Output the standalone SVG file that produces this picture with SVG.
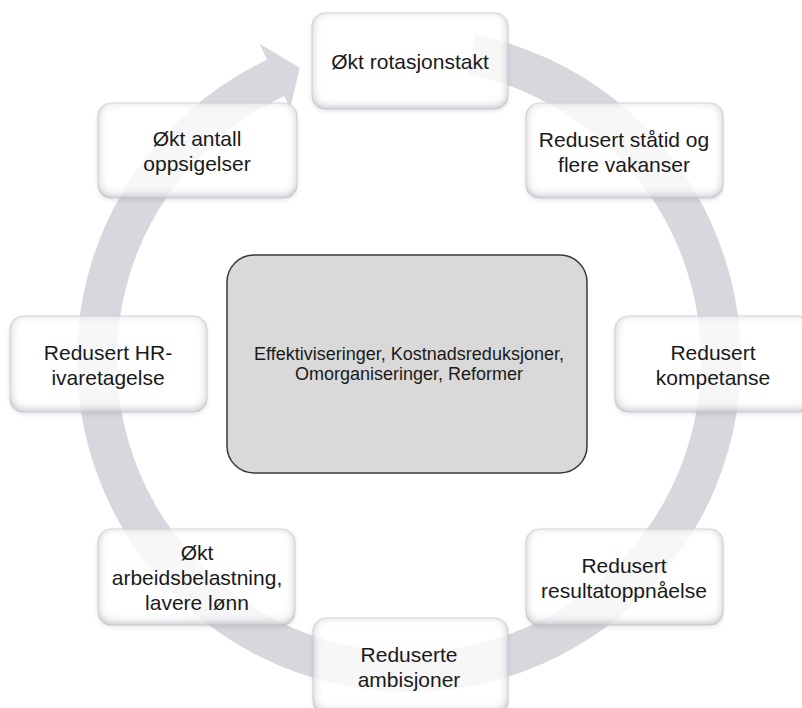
<svg xmlns="http://www.w3.org/2000/svg" width="802" height="708" viewBox="0 0 802 708">
<style>
  .lbl { font-family: "Liberation Sans", Arial, sans-serif; font-size: 21px; fill: #1a1a1a; text-anchor: middle; }
  .clbl { font-family: "Liberation Sans", Arial, sans-serif; font-size: 18px; fill: #1a1a1a; text-anchor: middle; }
  .box { fill: #ffffff; stroke: #e2e2e8; stroke-width: 1; opacity: 0.8; filter: url(#bevel); }
  .ring { fill: #d7d7dd; }
  .center { fill: #d9d9d9; stroke: #3a3a3a; stroke-width: 1.5; }
</style>
<defs>
  <filter id="bevel" x="-10%" y="-15%" width="120%" height="135%">
    <feFlood flood-color="#8a8a9c" flood-opacity="0.9" result="f"/>
    <feComposite in="f" in2="SourceAlpha" operator="out" result="inv"/>
    <feGaussianBlur in="inv" stdDeviation="5" result="blur"/>
    <feOffset in="blur" dx="0" dy="-2" result="off"/>
    <feComposite in="off" in2="SourceAlpha" operator="in" result="inner"/>
    <feGaussianBlur in="SourceAlpha" stdDeviation="2" result="sb"/>
    <feOffset in="sb" dx="0" dy="2" result="so"/>
    <feFlood flood-color="#000000" flood-opacity="0.12" result="sf"/>
    <feComposite in="sf" in2="so" operator="in" result="drop"/>
    <feMerge>
      <feMergeNode in="drop"/>
      <feMergeNode in="SourceGraphic"/>
      <feMergeNode in="inner"/>
    </feMerge>
  </filter>
</defs>
<rect x="0" y="0" width="802" height="708" fill="#ffffff"/>

<g id="connectors">
  <path class="ring" d="M 475.2,34.7 A 332 332 0 1 1 267.1,59.8 L 259.4,43.6 L 299.7,67.8 L 290.2,108.7 L 284.2,96.0 A 292 292 0 1 0 467.2,73.9 Z"/>
</g>

<g id="center-node">
  <rect class="center" x="227" y="255" width="360" height="218" rx="27" ry="27"/>
  <text class="clbl" x="409" y="360">Effektiviseringer, Kostnadsreduksjoner,</text>
  <text class="clbl" x="409" y="380">Omorganiseringer, Reformer</text>
</g>

<g id="node-rotasjonstakt">
  <rect class="box" x="312" y="13" width="196" height="96" rx="13" ry="13"/>
  <text class="lbl" x="410" y="69">Økt rotasjonstakt</text>
</g>

<g id="node-statid">
  <rect class="box" x="526" y="103" width="197" height="95" rx="13" ry="13"/>
  <text class="lbl" x="624" y="147">Redusert ståtid og</text>
  <text class="lbl" x="624" y="172">flere vakanser</text>
</g>

<g id="node-kompetanse">
  <rect class="box" x="615" y="316" width="197" height="96" rx="13" ry="13"/>
  <text class="lbl" x="713" y="360">Redusert</text>
  <text class="lbl" x="713" y="385">kompetanse</text>
</g>

<g id="node-resultat">
  <rect class="box" x="526" y="529" width="197" height="96" rx="13" ry="13"/>
  <text class="lbl" x="624" y="573">Redusert</text>
  <text class="lbl" x="624" y="598">resultatoppnåelse</text>
</g>

<g id="node-ambisjoner">
  <rect class="box" x="313" y="618" width="195" height="96" rx="13" ry="13"/>
  <text class="lbl" x="409" y="662">Reduserte</text>
  <text class="lbl" x="409" y="687">ambisjoner</text>
</g>

<g id="node-arbeidsbelastning">
  <rect class="box" x="98" y="529" width="197" height="96" rx="13" ry="13"/>
  <text class="lbl" x="197" y="560">Økt</text>
  <text class="lbl" x="197" y="585">arbeidsbelastning,</text>
  <text class="lbl" x="197" y="610">lavere lønn</text>
</g>

<g id="node-hr">
  <rect class="box" x="10" y="316" width="197" height="96" rx="13" ry="13"/>
  <text class="lbl" x="108" y="360">Redusert HR-</text>
  <text class="lbl" x="108" y="385">ivaretagelse</text>
</g>

<g id="node-oppsigelser">
  <rect class="box" x="98" y="103" width="199" height="95" rx="13" ry="13"/>
  <text class="lbl" x="197" y="146">Økt antall</text>
  <text class="lbl" x="197" y="171">oppsigelser</text>
</g>
</svg>
